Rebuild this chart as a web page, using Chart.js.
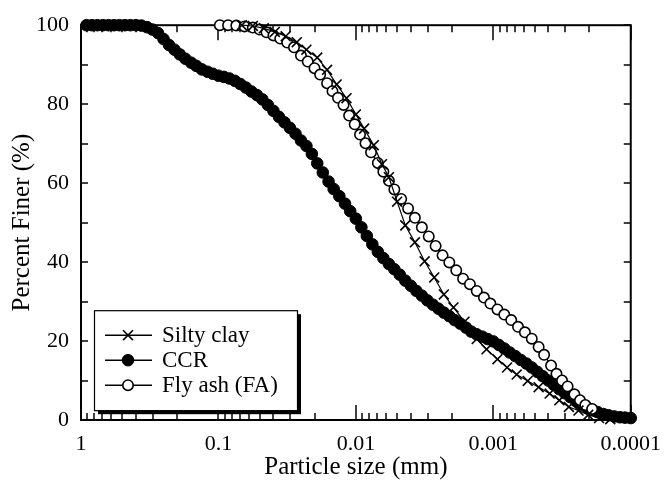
<!DOCTYPE html>
<html><head><meta charset="utf-8">
<script src="https://cdn.jsdelivr.net/npm/chart.js@4.4.0/dist/chart.umd.min.js"></script>
<style>html,body{margin:0;padding:0;background:#fff;}canvas{display:block;}</style>
</head><body>
<canvas id="c" width="672" height="488"></canvas>
<script>
const seriesNames = ['Silty clay', 'CCR', 'Fly ash (FA)'];

const siltySize = [0.0676, 0.0562, 0.0468, 0.0389, 0.0324, 0.0269, 0.0229, 0.0191, 0.0162, 0.0138,
  0.0117, 0.0100, 0.00871, 0.00741, 0.00646, 0.00575, 0.00501, 0.00437, 0.00372, 0.00316,
  0.00269, 0.00229, 0.00195, 0.00162, 0.00132, 0.00112, 0.000933, 0.000794, 0.000676, 0.000562,
  0.000468, 0.000389, 0.000331, 0.000282, 0.000240, 0.000204, 0.000170, 0.000141];
const siltyFiner = [100, 99.8, 99.2, 98.3, 97.2, 95.7, 93.8, 91.8, 88.7, 85.0,
  81.5, 77.4, 73.8, 69.6, 64.8, 61.5, 55.3, 49.3, 45.0, 40.2,
  36.1, 31.8, 28.5, 24.9, 20.5, 17.9, 15.4, 13.3, 11.5, 9.9,
  8.3, 6.7, 5.0, 3.3, 2.4, 1.3, 0.5, 0.2];

const ccrSize = [0.912, 0.832, 0.759, 0.692, 0.631, 0.575, 0.525, 0.479, 0.437, 0.398, 0.363, 0.331, 0.302, 0.275, 0.251, 0.229, 0.209, 0.191, 0.174, 0.158, 0.145, 0.132, 0.120, 0.110, 0.100,
  0.0912, 0.0832, 0.0759, 0.0692, 0.0631, 0.0575, 0.0525, 0.0479, 0.0437, 0.0398, 0.0363, 0.0331, 0.0302, 0.0275, 0.0251, 0.0229, 0.0209, 0.0191, 0.0174, 0.0158, 0.0145, 0.0132, 0.0120, 0.0110, 0.0100,
  0.00912, 0.00832, 0.00759, 0.00692, 0.00631, 0.00575, 0.00525, 0.00479, 0.00437, 0.00398, 0.00363, 0.00331, 0.00302, 0.00275, 0.00251, 0.00229, 0.00209, 0.00191, 0.00174, 0.00158, 0.00145, 0.00132, 0.00120, 0.00110, 0.00100,
  0.000912, 0.000832, 0.000759, 0.000692, 0.000631, 0.000575, 0.000525, 0.000479, 0.000437, 0.000398, 0.000363, 0.000331, 0.000302, 0.000275, 0.000251, 0.000229, 0.000209, 0.000191, 0.000174, 0.000158, 0.000145, 0.000132, 0.000120, 0.000110, 0.000100];
const ccrFiner = [100, 100, 100, 100, 100, 100, 100, 100, 100, 100, 99.9, 99.5, 98.9, 98.0, 96.5, 95.0, 93.8, 92.6, 91.5, 90.5, 89.7, 88.8, 88.2, 87.7, 87.2,
  86.9, 86.5, 85.9, 85.1, 84.2, 83.2, 82.3, 81.2, 79.8, 78.3, 76.8, 75.4, 74.0, 72.5, 70.8, 69.4, 67.4, 65.0, 62.7, 60.4, 58.5, 56.7, 54.8, 52.9, 51.0,
  48.8, 46.6, 44.5, 42.6, 41.0, 39.5, 38.2, 36.8, 35.3, 34.0, 32.7, 31.5, 30.3, 29.2, 28.2, 27.2, 26.3, 25.3, 24.4, 23.4, 22.4, 21.7, 21.1, 20.5, 19.9,
  19.0, 18.1, 17.1, 16.2, 15.2, 14.3, 13.3, 12.2, 11.1, 10.0, 8.9, 7.8, 6.8, 5.8, 4.8, 3.9, 3.2, 2.6, 2.0, 1.5, 1.2, 0.9, 0.7, 0.6, 0.5];

const faSize = [0.0977, 0.0851, 0.0741, 0.0646, 0.0562, 0.0501, 0.0447, 0.0398, 0.0355, 0.0316,
  0.0282, 0.0251, 0.0224, 0.0200, 0.0182, 0.0162, 0.0148, 0.0135, 0.0123, 0.0112,
  0.0102, 0.00933, 0.00851, 0.00776, 0.00692, 0.00631, 0.00575, 0.00525, 0.00468, 0.00417,
  0.00372, 0.00331, 0.00295, 0.00263, 0.00234, 0.00209, 0.00186, 0.00166, 0.00148, 0.00132,
  0.00117, 0.00105, 0.000933, 0.000832, 0.000741, 0.000661, 0.000589, 0.000525, 0.000468, 0.000427,
  0.000380, 0.000347, 0.000316, 0.000288, 0.000257, 0.000234, 0.000214, 0.000191];
const faFiner = [100, 100, 99.9, 99.7, 99.4, 98.9, 98.2, 97.4, 96.6, 95.6,
  94.4, 92.3, 90.8, 89.1, 87.5, 85.3, 83.3, 81.6, 79.8, 77.1,
  74.9, 72.3, 70.1, 67.8, 65.1, 62.9, 60.6, 58.4, 56.0, 53.6,
  51.2, 48.8, 46.5, 44.1, 41.7, 39.9, 37.9, 35.8, 34.4, 32.7,
  31.0, 29.5, 28.0, 26.7, 25.3, 23.6, 22.2, 20.6, 18.5, 16.5,
  13.8, 11.7, 10.0, 8.5, 6.5, 5.0, 3.8, 2.8];

const xMajorTicks = [1, 0.1, 0.01, 0.001, 0.0001];
const xTickLabels = ['1', '0.1', '0.01', '0.001', '0.0001'];
const yTickLabels = [0, 20, 40, 60, 80, 100];

const FONT = 'Liberation Serif';
Chart.defaults.font.family = FONT;
Chart.defaults.color = '#000';

function pts(xs, ys) { return xs.map((s, i) => ({ x: s, y: ys[i] })); }
function isMajor(v) { return xMajorTicks.some(m => Math.abs(m - v) / m < 1e-6); }

const frameTicks = {
  id: 'frameTicks',
  beforeDatasetsDraw(chart) {
    const ctx = chart.ctx, a = chart.chartArea, xs = chart.scales.x, ys = chart.scales.y;
    ctx.save();
    ctx.strokeStyle = '#000';
    ctx.lineWidth = 1.5;
    const line = (x1, y1, x2, y2) => { ctx.beginPath(); ctx.moveTo(x1, y1); ctx.lineTo(x2, y2); ctx.stroke(); };
    xs.ticks.forEach(t => {
      const p = Math.round(xs.getPixelForValue(t.value));
      const len = isMajor(t.value) ? 15 : 7;
      line(p, a.bottom, p, a.bottom - len);
      line(p, a.top, p, a.top + len);
    });
    ys.ticks.forEach(t => {
      const p = Math.round(ys.getPixelForValue(t.value));
      line(a.left, p, a.left + 7, p);
      line(a.right, p, a.right - 7, p);
    });
    ctx.lineWidth = 2;
    ctx.strokeRect(a.left, a.top, a.right - a.left, a.bottom - a.top);
    ctx.restore();
  }
};

const boxLegend = {
  id: 'boxLegend',
  afterDraw(chart) {
    const ctx = chart.ctx, a = chart.chartArea;
    const L = a.left + 13, T = a.top + 285, W = 203, H = 100;
    ctx.save();
    ctx.fillStyle = '#000';
    ctx.fillRect(L + 4, T + 4, W, H);
    ctx.fillStyle = '#fff';
    ctx.fillRect(L, T, W, H);
    ctx.strokeStyle = '#000';
    ctx.lineWidth = 1.2;
    ctx.strokeRect(L + 0.5, T + 0.5, W, H);
    chart.data.datasets.forEach((ds, i) => {
      const y = T + 25 + i * 25;
      ctx.beginPath(); ctx.moveTo(L + 11, y); ctx.lineTo(L + 58, y);
      ctx.lineWidth = 1.5; ctx.strokeStyle = '#000'; ctx.stroke();
      ctx.fillStyle = ds.pointBackgroundColor;
      ctx.strokeStyle = ds.pointBorderColor;
      ctx.lineWidth = ds.pointBorderWidth;
      Chart.helpers.drawPoint(ctx, { pointStyle: ds.pointStyle, radius: ds.pointRadius, borderWidth: ds.pointBorderWidth, rotation: 0 }, L + 34, y);
      ctx.fillStyle = '#000';
      ctx.font = '23px "' + FONT + '"';
      ctx.textBaseline = 'middle';
      ctx.textAlign = 'left';
      ctx.fillText(ds.label, L + 68, y + 1);
    });
    ctx.restore();
  }
};

new Chart(document.getElementById('c'), {
  type: 'scatter',
  data: {
    datasets: [
      { label: seriesNames[0], data: pts(siltySize, siltyFiner), showLine: true, order: 0, clip: false,
        borderColor: '#000', borderWidth: 1.2, pointStyle: 'crossRot', pointRadius: 7,
        pointBorderColor: '#000', pointBackgroundColor: '#000', pointBorderWidth: 1.6 },
      { label: seriesNames[1], data: pts(ccrSize, ccrFiner), showLine: true, order: 2, clip: false,
        borderColor: '#000', borderWidth: 1.2, pointStyle: 'circle', pointRadius: 5.8,
        pointBorderColor: '#000', pointBackgroundColor: '#000', pointBorderWidth: 1 },
      { label: seriesNames[2], data: pts(faSize, faFiner), showLine: true, order: 1, clip: false,
        borderColor: '#000', borderWidth: 1.2, pointStyle: 'circle', pointRadius: 5.2,
        pointBorderColor: '#000', pointBackgroundColor: '#fff', pointBorderWidth: 1.6 }
    ]
  },
  options: {
    responsive: false,
    animation: false,
    devicePixelRatio: 1,
    events: [],
    layout: { padding: { left: 0, right: 29, top: 18, bottom: 0 } },
    plugins: { legend: { display: false }, tooltip: { enabled: false } },
    scales: {
      x: {
        type: 'logarithmic', reverse: true, min: 0.0001, max: 1,
        afterBuildTicks: (s) => {
          const t = [];
          xMajorTicks.forEach(m => {
            t.push({ value: m });
            if (m > 0.0001) { for (let k = 2; k <= 9; k++) t.push({ value: m * k / 10 }); }
          });
          s.ticks = t;
        },
        ticks: {
          autoSkip: false, maxRotation: 0, minRotation: 0, padding: 11, color: '#000',
          font: { family: FONT, size: 22 },
          callback: (v) => { const i = xMajorTicks.findIndex(m => Math.abs(m - v) / m < 1e-6); return i >= 0 ? xTickLabels[i] : ''; }
        },
        grid: { display: false, drawTicks: false },
        border: { display: false },
        title: { display: true, text: 'Particle size (mm)', color: '#000', font: { family: FONT, size: 25 }, padding: { top: 0, bottom: 6 } },
        afterFit: (s) => { s.height = 68; }
      },
      y: {
        min: 0, max: 100,
        ticks: {
          stepSize: 10, padding: 12, color: '#000', font: { family: FONT, size: 22 },
          callback: (v) => yTickLabels.includes(v) ? String(v) : ''
        },
        grid: { display: false, drawTicks: false },
        border: { display: false },
        title: { display: true, text: 'Percent Finer (%)', color: '#000', font: { family: FONT, size: 25 }, padding: { top: 7, bottom: 0 } },
        afterFit: (s) => { s.width = 81; }
      }
    }
  },
  plugins: [frameTicks, boxLegend]
});
</script>
</body></html>
